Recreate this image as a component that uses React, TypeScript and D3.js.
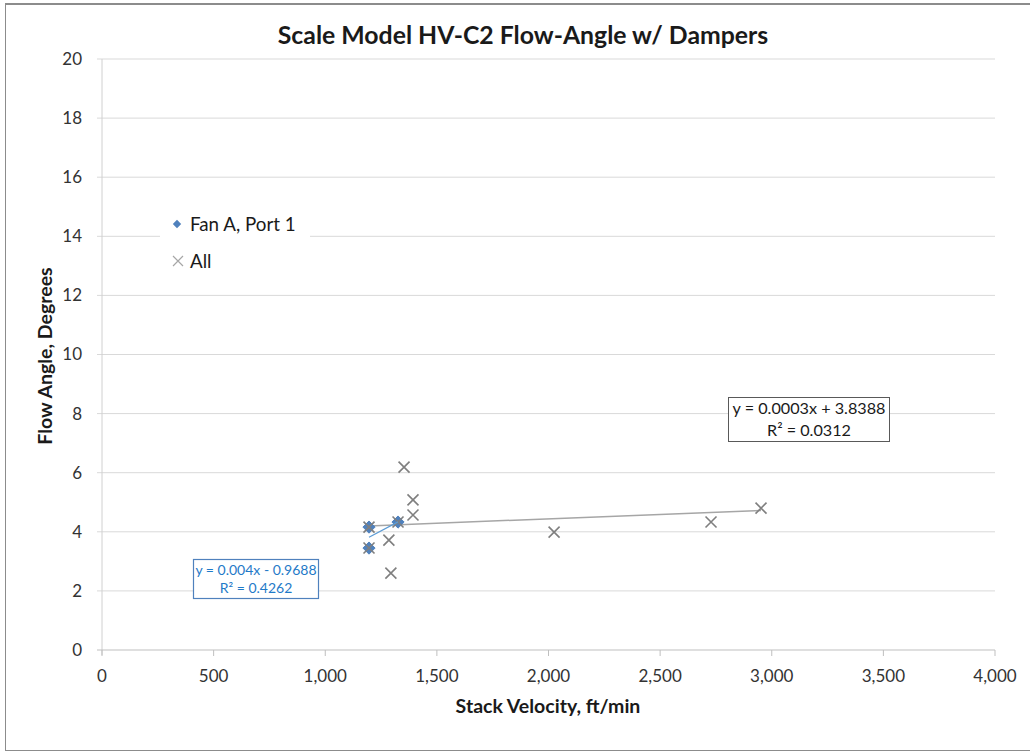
import React from 'react';
import * as d3 from 'd3';

// Fan A, Port 1 (blue diamonds)
const fanVelocity = [1196, 1196, 1326];
const fanAngle = [4.16, 3.45, 4.33];

// All points (gray crosses)
const allVelocity = [1196, 1196, 1326, 1285, 1294, 1353, 1393, 1393, 2025, 2728, 2952];
const allAngle = [4.16, 3.45, 4.33, 3.72, 2.6, 6.19, 5.08, 4.57, 3.99, 4.33, 4.8];

const xTicks = [0, 500, 1000, 1500, 2000, 2500, 3000, 3500, 4000];
const yTicks = [0, 2, 4, 6, 8, 10, 12, 14, 16, 18, 20];

// trendline coefficients as printed on the chart
const allFit = { slope: 0.0003, intercept: 3.8388, label: 'y = 0.0003x + 3.8388', r2: 'R² = 0.0312' };
const fanFit = { slope: 0.004, intercept: -0.9688, label: 'y = 0.004x - 0.9688', r2: 'R² = 0.4262' };

const W = 1030;
const H = 753;
const font = 'Lato, "Open Sans", sans-serif';

const App: React.FC = () => {
  const x = d3.scaleLinear().domain([0, 4000]).range([102, 995]);
  const y = d3.scaleLinear().domain([0, 20]).range([650, 59]);
  const fmt = d3.format(',');

  const allExt = d3.extent(allVelocity) as [number, number];
  const fanExt = d3.extent(fanVelocity) as [number, number];
  const allLine = d3.line<number>().x(v => x(v)).y(v => y(allFit.slope * v + allFit.intercept));
  const fanLine = d3.line<number>().x(v => x(v)).y(v => y(fanFit.slope * v + fanFit.intercept));

  const diamond = d3.symbol().type(d3.symbolDiamond2).size(95)();
  const cross = (cx: number, cy: number, r: number) =>
    `M${cx - r},${cy - r}L${cx + r},${cy + r}M${cx - r},${cy + r}L${cx + r},${cy - r}`;

  return (
    <svg width={W} height={H} style={{ position: 'absolute', left: 0, top: 0, background: '#fff' }}
      fontFamily={font}>
      {/* chart border */}
      <rect x={5.5} y={4} width={1040} height={746.5} fill="#fff" stroke="#8c8c8c" strokeWidth={1} />
      <line x1={5} x2={W} y1={4} y2={4} stroke="#8c8c8c" strokeWidth={2} />

      {/* title */}
      <text x={523} y={44} textAnchor="middle" fontSize={24.8} fontWeight={700} fill="#1a1a1a">
        Scale Model HV-C2 Flow-Angle w/ Dampers
      </text>

      {/* gridlines */}
      {yTicks.filter(t => t > 0).map(t => (
        <line key={'g' + t} x1={97} x2={995} y1={y(t)} y2={y(t)} stroke="#d9d9d9" strokeWidth={1} />
      ))}

      {/* y axis */}
      <line x1={x(0)} x2={x(0)} y1={y(20)} y2={y(0) + 5} stroke="#d0d0d0" strokeWidth={1} />
      {yTicks.map(t => (
        <text key={'yt' + t} x={82} y={y(t)} dy="0.35em" textAnchor="end" fontSize={17} fill="#333">
          {t}
        </text>
      ))}

      {/* x axis */}
      <line x1={97} x2={995} y1={y(0)} y2={y(0)} stroke="#bfbfbf" strokeWidth={1} />
      {xTicks.map(t => (
        <g key={'xt' + t}>
          <line x1={x(t)} x2={x(t)} y1={y(0)} y2={y(0) + 6} stroke="#bfbfbf" strokeWidth={1} />
          <text x={x(t)} y={682} textAnchor="middle" fontSize={17} fill="#333">
            {fmt(t)}
          </text>
        </g>
      ))}

      {/* axis titles */}
      <text x={548} y={713} textAnchor="middle" fontSize={19.5} fontWeight={700} fill="#1a1a1a">
        Stack Velocity, ft/min
      </text>
      <text transform={`translate(52,356) rotate(-90)`} textAnchor="middle" fontSize={19.5} fontWeight={700} fill="#1a1a1a">
        Flow Angle, Degrees
      </text>

      {/* trendline for All */}
      <path d={allLine(allExt) || ''} fill="none" stroke="#a6a6a6" strokeWidth={1.5} />

      {/* Fan A diamonds */}
      {fanVelocity.map((v, i) => (
        <path key={'f' + i} d={diamond || ''} transform={`translate(${x(v)},${y(fanAngle[i])})`}
          fill="#4f81bd" stroke="#4f81bd" strokeWidth={1} />
      ))}

      {/* All crosses */}
      {allVelocity.map((v, i) => (
        <path key={'a' + i} d={cross(x(v), y(allAngle[i]), 5.5)} fill="none" stroke="#7f7f7f" strokeWidth={1.6} />
      ))}

      {/* trendline for Fan A */}
      <path d={fanLine(fanExt) || ''} fill="none" stroke="#5b9bd5" strokeWidth={1.2} />

      {/* legend */}
      <rect x={160} y={211} width={150} height={64} fill="#fff" />
      <path d={d3.symbol().type(d3.symbolDiamond2).size(45)() || ''} transform="translate(177,224)" fill="#4f81bd" />
      <text x={190} y={224} dy="0.35em" fontSize={18.8} fill="#1a1a1a">Fan A, Port 1</text>
      <path d={cross(178, 261, 5)} fill="none" stroke="#a6a6a6" strokeWidth={1.2} />
      <text x={190} y={261} dy="0.35em" fontSize={18.8} fill="#1a1a1a">All</text>

      {/* equation label for All */}
      <rect x={728.5} y={397.5} width={161} height={44} fill="#fff" stroke="#595959" strokeWidth={1} />
      <text x={809} y={414} textAnchor="middle" fontSize={16.2} fill="#1a1a1a">{allFit.label}</text>
      <text x={809} y={436} textAnchor="middle" fontSize={16.2} fill="#1a1a1a">{allFit.r2}</text>

      {/* equation label for Fan A */}
      <rect x={193.5} y={559.5} width={125} height={39} fill="#fff" stroke="#4f81bd" strokeWidth={1.2} />
      <text x={256} y={575} textAnchor="middle" fontSize={14} fill="#1f7ac8">{fanFit.label}</text>
      <text x={256} y={593} textAnchor="middle" fontSize={14} fill="#1f7ac8">{fanFit.r2}</text>
    </svg>
  );
};

export default App;
